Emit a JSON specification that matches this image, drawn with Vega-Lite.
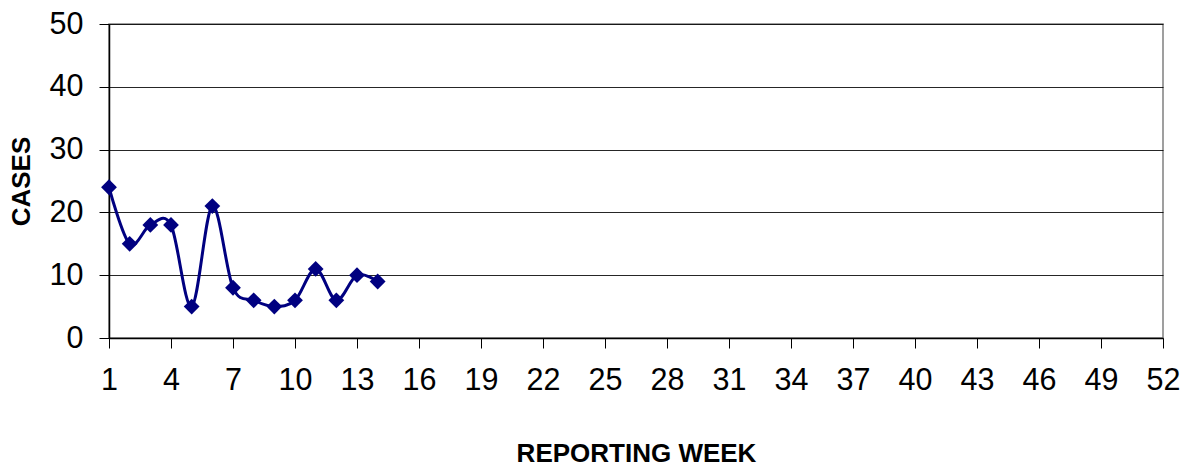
{
  "$schema": "https://vega.github.io/schema/vega-lite/v6.json",
  "width": 1054,
  "height": 314,
  "autosize": {"type": "none"},
  "padding": {"left": 109, "top": 24, "right": 19, "bottom": 130},
  "background": "white",
  "config": {
    "font": "Liberation Sans",
    "view": {"stroke": "#808080", "strokeWidth": 1.5},
    "axis": {
      "labelFont": "Liberation Sans",
      "titleFont": "Liberation Sans",
      "labelColor": "#000",
      "titleColor": "#000",
      "domainColor": "#000",
      "domainWidth": 1.5,
      "tickColor": "#000",
      "tickWidth": 1,
      "tickSize": 10
    }
  },
  "data": {
    "values": [
      {"week": 1, "cases": 24},
      {"week": 2, "cases": 15},
      {"week": 3, "cases": 18},
      {"week": 4, "cases": 18},
      {"week": 5, "cases": 5},
      {"week": 6, "cases": 21},
      {"week": 7, "cases": 8},
      {"week": 8, "cases": 6},
      {"week": 9, "cases": 5},
      {"week": 10, "cases": 6},
      {"week": 11, "cases": 11},
      {"week": 12, "cases": 6},
      {"week": 13, "cases": 10},
      {"week": 14, "cases": 9}
    ]
  },
  "encoding": {
    "x": {
      "field": "week",
      "type": "quantitative",
      "scale": {"domain": [1, 52], "nice": false, "zero": false},
      "axis": {
        "title": "REPORTING WEEK",
        "values": [1, 4, 7, 10, 13, 16, 19, 22, 25, 28, 31, 34, 37, 40, 43, 46, 49, 52],
        "grid": false,
        "labelFontSize": 30.5,
        "labelPadding": 17,
        "labelFlush": false,
        "labelOverlap": false,
        "titleFontSize": 26,
        "titleFontWeight": "bold",
        "titlePadding": 45
      }
    },
    "y": {
      "field": "cases",
      "type": "quantitative",
      "scale": {"domain": [0, 50], "nice": false},
      "axis": {
        "title": "CASES",
        "values": [0, 10, 20, 30, 40, 50],
        "grid": true,
        "gridColor": "#000",
        "gridWidth": 1,
        "gridOpacity": 0.85,
        "labelFontSize": 30.5,
        "labelPadding": 16,
        "labelFlush": false,
        "titleFontSize": 26,
        "titleFontWeight": "bold",
        "titlePadding": 15
      }
    }
  },
  "layer": [
    {
      "mark": {"type": "line", "interpolate": "cardinal", "color": "#000080", "strokeWidth": 3}
    },
    {
      "mark": {"type": "point", "shape": "diamond", "filled": true, "color": "#000080", "opacity": 1, "size": 250}
    }
  ]
}
